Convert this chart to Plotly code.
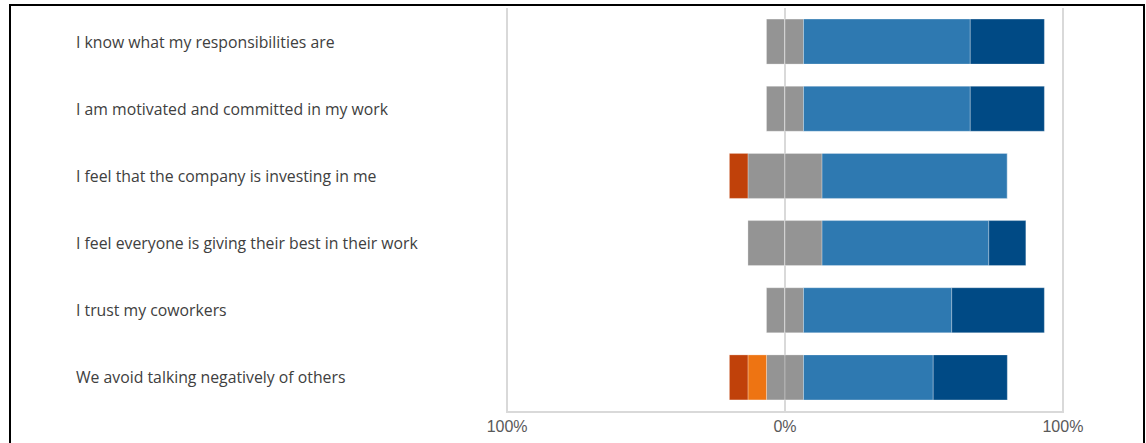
import plotly.graph_objects as go

categories = [
    "I know what my responsibilities are",
    "I am motivated and committed in my work",
    "I feel that the company is investing in me",
    "I feel everyone is giving their best in their work",
    "I trust my coworkers",
    "We avoid talking negatively of others",
]
strongly_disagree = [0, 0, 6.67, 0, 0, 6.67]
disagree = [0, 0, 0, 0, 0, 6.67]
neutral = [13.33, 13.33, 26.67, 26.67, 13.33, 13.33]
agree = [60.0, 60.0, 66.67, 60.0, 53.33, 46.67]
strongly_agree = [26.67, 26.67, 0, 13.33, 33.33, 26.67]

tick_vals = [-100, 0, 100]
tick_text = ["100%", "0%", "100%"]

C_SD = "#C0410A"
C_D = "#EE7412"
C_N = "#949494"
C_A = "#2E79B1"
C_SA = "#004A85"

W, H = 1146, 443
L, R, T, B = 506, 82, 8, 30

fig = go.Figure()
bw = 0.67
line = dict(color="rgba(255,255,255,0.35)", width=0.8)

def add(vals, color, name, sign):
    fig.add_trace(go.Bar(
        y=categories, x=[sign * v for v in vals], orientation="h",
        marker=dict(color=color, line=line), width=bw, name=name,
        showlegend=False, hoverinfo="skip"))

add([v / 2 for v in neutral], C_N, "Neutral", -1)
add(disagree, C_D, "Disagree", -1)
add(strongly_disagree, C_SD, "Strongly disagree", -1)
add([v / 2 for v in neutral], C_N, "Neutral", 1)
add(agree, C_A, "Agree", 1)
add(strongly_agree, C_SA, "Strongly agree", 1)

pw = W - L - R
for c in categories:
    fig.add_annotation(
        x=(74 - L) / pw, xref="paper", y=c, yref="y",
        text=c, showarrow=False, xanchor="left", yanchor="middle",
        font=dict(family="Open Sans", size=15.8, color="#404040"))

ph = H - T - B
fig.add_shape(type="rect", xref="paper", yref="paper",
              x0=(10 - L) / pw, x1=(1144 - L) / pw,
              y0=(H - B - 470) / ph, y1=(H - B - 5) / ph,
              line=dict(color="black", width=2), fillcolor="rgba(0,0,0,0)",
              layer="above")

fig.update_layout(
    width=W, height=H, barmode="relative",
    margin=dict(l=L, r=R, t=T, b=B),
    paper_bgcolor="white", plot_bgcolor="white",
    xaxis=dict(range=[-100.4, 100.4], tickvals=tick_vals, ticktext=tick_text,
               showgrid=True, gridcolor="#D9D9D9", gridwidth=1.5,
               zeroline=False, showline=True, linecolor="#D9D9D9", linewidth=1.5,
               tickfont=dict(family="Liberation Sans", size=16, color="#595959"),
               ticks="", layer="above traces", fixedrange=True),
    yaxis=dict(autorange="reversed", showticklabels=False, showgrid=False,
               zeroline=False, fixedrange=True),
)

fig.write_html("out.html")
